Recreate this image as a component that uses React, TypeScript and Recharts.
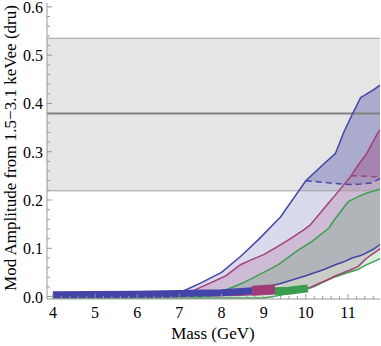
import { ComposedChart, Area, Line, XAxis, YAxis, Label } from "recharts";

const MASS_TICKS = [4, 5, 6, 7, 8, 9, 10, 11];
const AMP_TICKS = [0, 0.1, 0.2, 0.3, 0.4, 0.5, 0.6];
const AMP_LABELS = ["0.0", "0.1", "0.2", "0.3", "0.4", "0.5", "0.6"];

// measured band (gray) and its central value
const BAND_MASS = [3.5, 12.5];
const BAND_LOW = [0.219, 0.219];
const BAND_HIGH = [0.535, 0.535];
const BAND_MID = [0.379, 0.379];

// blue model
const BLUE_MASS = [4, 6.8, 7.0, 7.5, 8.0, 8.45, 8.9, 9.3, 9.4, 10.0, 10.43, 10.7, 10.9, 11.1, 11.3, 11.38, 11.6, 11.8];
const BLUE_HIGH = [0, 0, 0.008, 0.028, 0.05, 0.083, 0.12, 0.156, 0.165, 0.24, 0.275, 0.296, 0.34, 0.377, 0.412, 0.416, 0.428, 0.44];
const BLUE_LOW = [0.004, 0.006, 0.006, 0.007, 0.008, 0.01, 0.016, 0.025, 0.027, 0.043, 0.056, 0.066, 0.072, 0.08, 0.085, 0.088, 0.098, 0.11];

// magenta model
const MAG_MASS = [4, 7.0, 7.4, 8.1, 8.45, 8.7, 9.0, 9.3, 9.6, 9.95, 10.1, 10.6, 10.67, 11.05, 11.24, 11.45, 11.7, 11.8];
const MAG_HIGH = [0, 0, 0.015, 0.043, 0.066, 0.076, 0.087, 0.102, 0.118, 0.138, 0.148, 0.2, 0.207, 0.247, 0.272, 0.297, 0.338, 0.35];
const MAG_LOW = [0, 0, 0, 0.002, 0.003, 0.004, 0.005, 0.007, 0.01, 0.015, 0.019, 0.038, 0.042, 0.055, 0.062, 0.08, 0.095, 0.102];

// green model
const GREEN_MASS = [4, 7.7, 8.0, 8.5, 9.0, 9.35, 9.8, 10.12, 10.2, 10.55, 10.67, 11.0, 11.24, 11.4, 11.8];
const GREEN_HIGH = [0, 0, 0.01, 0.028, 0.05, 0.066, 0.095, 0.113, 0.118, 0.142, 0.158, 0.196, 0.207, 0.213, 0.224];
const GREEN_LOW = [-0.003, -0.003, -0.003, -0.003, -0.003, 0.002, 0.01, 0.018, 0.021, 0.036, 0.04, 0.05, 0.056, 0.064, 0.08];

// dashed limits with the filled part above them
const DASH_BLUE_MASS = [10.0, 10.5, 10.7, 11.07, 11.3, 11.55, 11.8];
const DASH_BLUE_LOW = [0.24, 0.236, 0.234, 0.232, 0.233, 0.235, 0.246];
const DASH_BLUE_HIGH = [0.24, 0.28, 0.296, 0.37, 0.412, 0.426, 0.44];
const DASH_MAG_MASS = [11.07, 11.24, 11.45, 11.7, 11.8];
const DASH_MAG_LOW = [0.25, 0.25, 0.249, 0.248, 0.247];
const DASH_MAG_HIGH = [0.25, 0.272, 0.297, 0.338, 0.35];

// thick best-fit segments along the bottom
const BLOB_BLUE_MASS = [4.0, 6.0, 8.0, 8.73];
const BLOB_BLUE = [0.004, 0.005, 0.008, 0.012];
const BLOB_MAG_MASS = [8.73, 9.27];
const BLOB_MAG = [0.012, 0.015];
const BLOB_GREEN_MASS = [9.27, 9.6, 10.05];
const BLOB_GREEN = [0.011, 0.012, 0.017];

const BLUE = "#4545a5";
const MAG = "#a33f7a";
const GREEN = "#3da04f";
const FRAME = "#999999";
const FONT = "'Liberation Serif', 'DejaVu Serif', 'Times New Roman', serif";
const textStyle = { fontFamily: FONT, fill: "#000" };

const rows = (mass: number[], lo: number[], hi: number[]) =>
  mass.map((m, i) => ({ m, lo: lo[i], hi: hi[i], r: [lo[i], hi[i]] }));
const pts = (mass: number[], v: number[]) => mass.map((m, i) => ({ m, v: v[i] }));

const xMinor: number[] = [];
for (let k = 0; k <= 38; k++) xMinor.push(Math.round((4 + k * 0.2) * 10) / 10);
const yMinor: number[] = [];
for (let k = 0; k <= 30; k++) yMinor.push(Math.round(k * 2) / 100);

const isMajorX = (v: number) => MASS_TICKS.some((t) => Math.abs(t - v) < 1e-6);
const majorYIndex = (v: number) => AMP_TICKS.findIndex((t) => Math.abs(t - v) < 1e-6);

function BottomTick(props: any) {
  const { x, y, payload } = props;
  const major = isMajorX(payload.value);
  return (
    <g>
      <line x1={x} x2={x} y1={y} y2={y - (major ? 5 : 3)} stroke={FRAME} />
      {major && (
        <text x={x} y={y + 19} textAnchor="middle" fontSize={16} style={textStyle}>
          {payload.value}
        </text>
      )}
    </g>
  );
}

function TopTick(props: any) {
  const { x, y, payload } = props;
  const major = isMajorX(payload.value);
  return <line x1={x} x2={x} y1={y} y2={y + (major ? 5 : 3)} stroke={FRAME} />;
}

function LeftTick(props: any) {
  const { x, y, payload } = props;
  const idx = majorYIndex(payload.value);
  return (
    <g>
      <line x1={x} x2={x + (idx >= 0 ? 5 : 3)} y1={y} y2={y} stroke={FRAME} />
      {idx >= 0 && (
        <text x={x - 4} y={y + 6} textAnchor="end" fontSize={16} style={textStyle}>
          {AMP_LABELS[idx]}
        </text>
      )}
    </g>
  );
}

function RightTick(props: any) {
  const { x, y, payload } = props;
  const major = majorYIndex(payload.value) >= 0;
  return <line x1={x} x2={x - (major ? 5 : 3)} y1={y} y2={y} stroke={FRAME} />;
}

export default function App() {
  const band = rows(BAND_MASS, BAND_LOW, BAND_HIGH);
  const mid = pts(BAND_MASS, BAND_MID);
  const blue = rows(BLUE_MASS, BLUE_LOW, BLUE_HIGH);
  const mag = rows(MAG_MASS, MAG_LOW, MAG_HIGH);
  const green = rows(GREEN_MASS, GREEN_LOW, GREEN_HIGH);
  const dashBlue = rows(DASH_BLUE_MASS, DASH_BLUE_LOW, DASH_BLUE_HIGH);
  const dashMag = rows(DASH_MAG_MASS, DASH_MAG_LOW, DASH_MAG_HIGH);

  const thin = { type: "linear" as const, dot: false, activeDot: false, isAnimationActive: false, strokeWidth: 1.5 };
  const fillArea = { type: "linear" as const, stroke: "none", dataKey: "r", isAnimationActive: false, activeDot: false };

  return (
    <div style={{ position: "absolute", left: 0, top: 0 }}>
      <ComposedChart width={381} height={346} margin={{ top: 3, right: 1, bottom: 0, left: 0 }}>
        <XAxis
          xAxisId={0}
          dataKey="m"
          type="number"
          domain={[3.86, 11.76]}
          allowDataOverflow
          ticks={xMinor}
          interval={0}
          height={47}
          tickSize={0}
          tickMargin={0}
          tickLine={false}
          tick={<BottomTick />}
          axisLine={{ stroke: FRAME }}
        >
          <Label
            content={() => (
              <text x={213} y={339} textAnchor="middle" fontSize={17} style={textStyle}>
                Mass (GeV)
              </text>
            )}
          />
        </XAxis>
        <XAxis
          xAxisId="top"
          orientation="top"
          dataKey="m"
          type="number"
          domain={[3.86, 11.76]}
          allowDataOverflow
          ticks={xMinor}
          interval={0}
          height={0}
          tickSize={0}
          tickMargin={0}
          tickLine={false}
          tick={<TopTick />}
          axisLine={{ stroke: FRAME }}
        />
        <YAxis
          yAxisId={0}
          type="number"
          domain={[-0.005, 0.608]}
          allowDataOverflow
          ticks={yMinor}
          interval={0}
          width={47}
          tickSize={0}
          tickMargin={0}
          tickLine={false}
          tick={<LeftTick />}
          axisLine={{ stroke: FRAME }}
        >
          <Label
            content={() => (
              <text
                transform="translate(10, 148) rotate(-90)"
                textAnchor="middle"
                dominantBaseline="central"
                fontSize={17}
                style={textStyle}
              >
                Mod Amplitude from 1.5−3.1 keVee (dru)
              </text>
            )}
          />
        </YAxis>
        <YAxis
          yAxisId="right"
          orientation="right"
          type="number"
          domain={[-0.005, 0.608]}
          allowDataOverflow
          ticks={yMinor}
          interval={0}
          width={0}
          tickSize={0}
          tickMargin={0}
          tickLine={false}
          tick={<RightTick />}
          axisLine={{ stroke: FRAME }}
        />

        <Area data={band} {...fillArea} fill="#e5e5e5" fillOpacity={1} />
        <Area data={blue} {...fillArea} fill={BLUE} fillOpacity={0.2} />
        <Area data={mag} {...fillArea} fill={MAG} fillOpacity={0.2} />
        <Area data={green} {...fillArea} fill={GREEN} fillOpacity={0.2} />
        <Area data={dashBlue} {...fillArea} fill={BLUE} fillOpacity={0.2} />
        <Area data={dashMag} {...fillArea} fill={MAG} fillOpacity={0.2} />

        <Line data={band} dataKey="lo" {...thin} strokeWidth={1} stroke="#a0a0a0" />
        <Line data={band} dataKey="hi" {...thin} strokeWidth={1} stroke="#a0a0a0" />
        <Line data={mid} dataKey="v" {...thin} strokeWidth={2} stroke="#808080" />

        <Line data={green} dataKey="lo" {...thin} stroke={GREEN} />
        <Line data={mag} dataKey="lo" {...thin} stroke={MAG} />
        <Line data={blue} dataKey="lo" {...thin} stroke={BLUE} />
        <Line data={green} dataKey="hi" {...thin} stroke={GREEN} />
        <Line data={mag} dataKey="hi" {...thin} stroke={MAG} />
        <Line data={blue} dataKey="hi" {...thin} stroke={BLUE} />
        <Line data={dashBlue} dataKey="lo" {...thin} stroke={BLUE} strokeDasharray="6 4" />
        <Line data={dashMag} dataKey="lo" {...thin} stroke={MAG} strokeDasharray="6 4" />

        <Line data={pts(BLOB_BLUE_MASS, BLOB_BLUE)} dataKey="v" {...thin} stroke="#4343a8" strokeWidth={7} />
        <Line data={pts(BLOB_MAG_MASS, BLOB_MAG)} dataKey="v" {...thin} stroke="#a03a78" strokeWidth={10} />
        <Line data={pts(BLOB_GREEN_MASS, BLOB_GREEN)} dataKey="v" {...thin} stroke="#3a9e4e" strokeWidth={8} />
      </ComposedChart>
    </div>
  );
}
